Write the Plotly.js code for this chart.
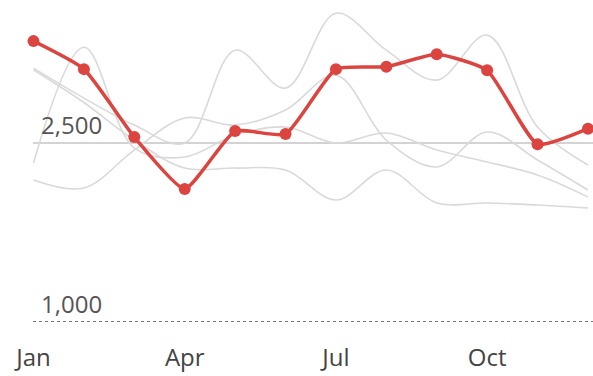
<!DOCTYPE html>
<html>
<head>
<meta charset="utf-8">
<script src="https://cdn.plot.ly/plotly-3.0.1.min.js"></script>
<style>html,body{margin:0;padding:0;background:#fff;}#chart{width:593px;height:376px;}</style>
</head>
<body>
<div id="chart"></div>
<script>
const months = ['Jan','Feb','Mar','Apr','May','Jun','Jul','Aug','Sep','Oct','Nov','Dec'];
const xTickLabels = ['Jan','Apr','Jul','Oct'];
const highlight = [3355, 3120, 2550, 2115, 2600, 2575, 3120, 3140, 3245, 3110, 2490, 2620];
const grayA = [2332, 3304, 2458, 2383, 2567, 2634, 2500, 2584, 2441, 2341, 2232, 2048];
const grayB = [3128, 2877, 2651, 2500, 3279, 2961, 3589, 3279, 3028, 3405, 2634, 2316];
const grayD = [2190, 2123, 2441, 2710, 2651, 2777, 3070, 2525, 2299, 2592, 2358, 2106];
const grayE = [3115, 2840, 2525, 2290, 2290, 2274, 2022, 2274, 1997, 1997, 1980, 1955];
const grayTicks = [2500];
const dotTicks = [1000];
const yRange = [990, 3700];

const grays = [grayA, grayB, grayD, grayE];
const traces = grays.map(g => ({
  x: months, y: g, type: 'scatter', mode: 'lines',
  line: {color: '#d9d9d9', width: 1.6, shape: 'spline', smoothing: 1},
  hoverinfo: 'skip', showlegend: false, yaxis: 'y'
}));
traces.push({
  x: months, y: highlight, type: 'scatter', mode: 'lines+markers',
  line: {color: '#dc4440', width: 3.5, shape: 'spline', smoothing: 0.5},
  marker: {color: '#dc4440', size: 12},
  cliponaxis: false, showlegend: false, yaxis: 'y2'
});

const tickFont = {family: 'Open Sans, sans-serif', size: 24, color: '#555'};
const layout = {
  width: 593, height: 376,
  margin: {l: 33, r: 0, t: 0, b: 53},
  paper_bgcolor: '#fff', plot_bgcolor: '#fff',
  showlegend: false,
  xaxis: {
    type: 'category', categoryorder: 'array', categoryarray: months,
    range: [-0.01, 11.1], tickvals: xTickLabels, ticktext: xTickLabels,
    showgrid: false, zeroline: false, showline: false, ticks: '',
    tickfont: {family: 'Open Sans, sans-serif', size: 24, color: '#444'},
    ticklabelstandoff: 18, ticklabeloverflow: 'allow'
  },
  yaxis: {
    range: yRange, tickvals: grayTicks, ticktext: grayTicks.map(v => v.toLocaleString('en-US')),
    showgrid: true, gridcolor: '#d3d3d3', gridwidth: 1.2, zeroline: false, showline: false,
    ticks: '', ticklabelposition: 'inside', ticklabelstandoff: 5, ticklabelshift: -17,
    ticklabeloverflow: 'allow', tickfont: tickFont
  },
  yaxis2: {
    overlaying: 'y', side: 'left',
    range: yRange, tickvals: dotTicks, ticktext: dotTicks.map(v => v.toLocaleString('en-US')),
    showgrid: true, gridcolor: '#777', gridwidth: 1.2, griddash: 'dot', zeroline: false, showline: false,
    ticks: '', ticklabelposition: 'inside', ticklabelstandoff: 5, ticklabelshift: -17,
    ticklabeloverflow: 'allow', tickfont: tickFont
  }
};
Plotly.newPlot('chart', traces, layout, {displayModeBar: false, staticPlot: true});
</script>
</body>
</html>
